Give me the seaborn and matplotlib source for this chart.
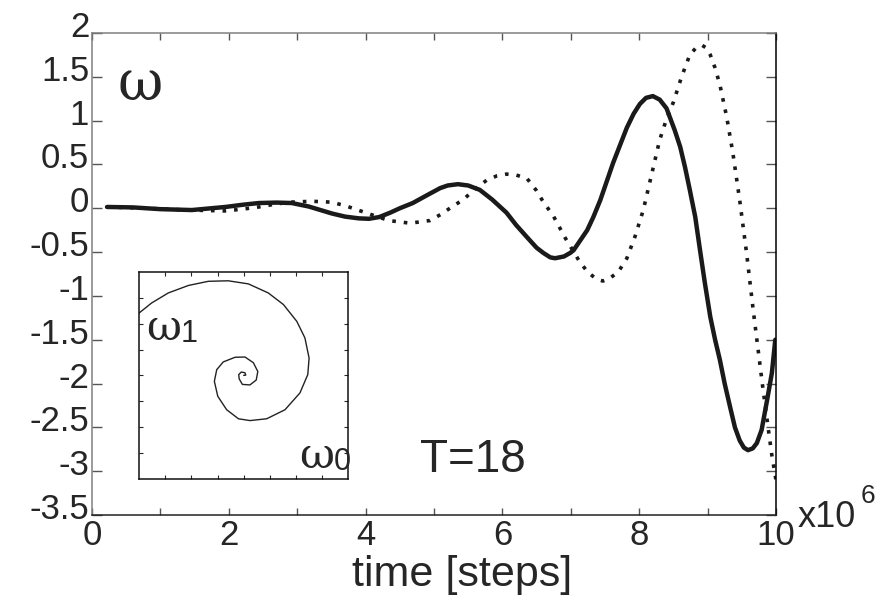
import matplotlib
matplotlib.use('Agg')
import matplotlib.pyplot as plt
import matplotlib.transforms as mtransforms
import seaborn as sns

sns.set_style("ticks")
plt.rcParams['font.family'] = ['Liberation Sans', 'DejaVu Sans']
plt.rcParams['axes.unicode_minus'] = False

# time in units of 1e6 steps
t_solid = [0.22, 0.6, 1.0, 1.46, 1.95, 2.2, 2.44, 2.7, 2.92, 3.17, 3.51, 3.7, 3.9, 4.05, 4.2, 4.36,
           4.5, 4.69, 4.9, 5.09, 5.2, 5.35, 5.5, 5.67, 5.85, 6.06, 6.2, 6.36, 6.5, 6.6, 6.7, 6.77,
           6.9, 6.99, 7.04, 7.24, 7.33, 7.43, 7.62, 7.82, 7.92, 8.01, 8.1, 8.2, 8.3, 8.4, 8.52, 8.6,
           8.67, 8.74, 8.82, 8.89, 8.96, 9.04, 9.11, 9.18, 9.25, 9.33, 9.4, 9.47, 9.53, 9.59, 9.66,
           9.72, 9.79, 9.87, 9.94, 9.99]
w_solid = [0.015, 0.01, -0.01, -0.02, 0.015, 0.04, 0.06, 0.065, 0.06, 0.02, -0.06, -0.095, -0.115, -0.12, -0.10, -0.05,
           0.0, 0.06, 0.15, 0.23, 0.26, 0.275, 0.26, 0.21, 0.10, -0.05, -0.19, -0.33, -0.45, -0.51, -0.56, -0.57,
           -0.55, -0.51, -0.48, -0.25, -0.10, 0.09, 0.52, 0.92, 1.08, 1.19, 1.26, 1.28, 1.24, 1.14, 0.89, 0.70,
           0.47, 0.21, -0.10, -0.48, -0.85, -1.24, -1.50, -1.73, -2.0, -2.27, -2.50, -2.65, -2.73, -2.76, -2.74,
           -2.68, -2.53, -2.19, -1.88, -1.50]

t_dot = [0.22, 0.8, 1.4, 1.94, 2.2, 2.44, 2.7, 2.9, 3.22, 3.5, 3.7, 4.0, 4.34, 4.65, 4.94, 5.1,
         5.26, 5.43, 5.6, 5.77, 5.92, 6.06, 6.2, 6.36, 6.5, 6.6, 6.74, 6.92, 7.13, 7.25, 7.38, 7.47,
         7.57, 7.7, 7.82, 7.94, 8.06, 8.18, 8.3, 8.4, 8.5, 8.62, 8.74, 8.83, 8.92, 8.98, 9.04, 9.11,
         9.18, 9.28, 9.37, 9.47, 9.57, 9.67, 9.74, 9.8, 9.89, 9.94, 10.0]
w_dot = [0.015, 0.0, -0.02, -0.03, -0.01, 0.015, 0.05, 0.07, 0.08, 0.07, 0.03, -0.05, -0.14, -0.17, -0.14, -0.07,
         0.015, 0.10, 0.22, 0.32, 0.37, 0.39, 0.38, 0.34, 0.20, 0.07, -0.08, -0.34, -0.61, -0.73, -0.81, -0.83,
         -0.80, -0.72, -0.57, -0.32, -0.02, 0.38, 0.78, 1.02, 1.21, 1.50, 1.75, 1.83, 1.86, 1.83, 1.75, 1.60,
         1.41, 1.04, 0.63, 0.09, -0.51, -1.18, -1.62, -2.0, -2.53, -2.82, -3.1]

# inset: phase portrait omega_0 vs omega_1
w0_spiral = [0.0, 0.08, 0.05, -0.09, -0.19, -0.17, -0.05, 0.24, 0.48, 0.54, 0.37, 0.05, -0.33, -0.78,
             -1.03, -1.12, -0.99, -0.65, -0.20, 0.24, 0.88, 1.58, 2.15, 2.45, 2.50, 2.34, 2.03, 1.52,
             0.94, 0.18, -0.59, -1.35, -2.11, -2.88, -3.52, -4.0]
w1_spiral = [0.0, 0.01, 0.10, 0.13, 0.03, -0.14, -0.35, -0.37, -0.18, 0.15, 0.49, 0.71, 0.70, 0.52,
             0.22, -0.23, -0.81, -1.33, -1.68, -1.75, -1.68, -1.33, -0.68, 0.03, 0.67, 1.45, 2.09, 2.74,
             3.19, 3.54, 3.66, 3.64, 3.48, 3.19, 2.80, 2.41]

x_ticks = [0, 2, 4, 6, 8, 10]
x_labels = ['0', '2', '4', '6', '8', '10']
y_ticks = [2, 1.5, 1, 0.5, 0, -0.5, -1, -1.5, -2, -2.5, -3, -3.5]
y_labels = ['2', '1.5', '1', '0.5', '0', '-0.5', '-1', '-1.5', '-2', '-2.5', '-3', '-3.5']

serif = ['DejaVu Serif', 'Liberation Serif']

fig = plt.figure(figsize=(8.77, 5.99), dpi=100)
ax = fig.add_axes([0.1049, 0.1402, 0.7799, 0.8047])

sns.lineplot(x=t_solid, y=w_solid, ax=ax, color='#1a1a1a', linewidth=3.2, sort=False, estimator=None)
sns.lineplot(x=t_dot, y=w_dot, ax=ax, color='#1a1a1a', linewidth=2.6, linestyle=(0, (1, 2.2)),
             sort=False, estimator=None)

ax.set_xlim(0, 10)
ax.set_ylim(-3.5, 2)
ax.set_xticks(x_ticks)
ax.set_xticklabels(x_labels)
ax.set_xticks([1, 3, 5, 7, 9], minor=True)
ax.set_yticks(y_ticks)
ax.set_yticklabels(y_labels)

ax.tick_params(axis='x', which='both', direction='in', top=True, length=5, width=1,
               color='#555555', labelsize=25, pad=3)
ax.tick_params(axis='y', direction='in', right=True, length=7, width=1,
               color='#555555', labelsize=25, pad=2)
shift = mtransforms.ScaledTranslation(0, 9 / 100, fig.dpi_scale_trans)
for lab in ax.get_yticklabels():
    lab.set_transform(lab.get_transform() + shift)

for side, col in [('left', '#808080'), ('top', '#808080'), ('bottom', '#222222'), ('right', '#000000')]:
    ax.spines[side].set_visible(True)
    ax.spines[side].set_color(col)
    ax.spines[side].set_linewidth(1.1)

ax.set_xlabel('time [steps]', fontsize=31)
ax.xaxis.set_label_coords(0.541, -0.082)
ax.set_ylabel('')

ax.text(0.037, 0.862, 'ω', transform=ax.transAxes, fontsize=40,
        family=serif, va='baseline', ha='left')
ax.text(0.48, 0.089, 'T=18', transform=ax.transAxes, fontsize=33, va='baseline', ha='left')

fig.text(798 / 877, 1 - 527 / 599, 'x10', fontsize=26, va='baseline', ha='left')
fig.text(861 / 877, 1 - 503 / 599, '6', fontsize=19, va='baseline', ha='left')

# inset
axins = fig.add_axes([0.1585, 0.2008, 0.2387, 0.3451])
sns.lineplot(x=w0_spiral, y=w1_spiral, ax=axins, color='#222222', linewidth=1.0,
             sort=False, estimator=None)
axins.set_xlim(-4, 4)
axins.set_ylim(-4, 4)
axins.set_xticks([-3, -2, -1, 0, 1, 2, 3])
axins.set_yticks([-3, -2, -1, 0, 1, 2, 3])
axins.tick_params(direction='in', top=True, right=True, length=3, width=0.8,
                  labelbottom=False, labelleft=False)
for side in ['left', 'top', 'bottom', 'right']:
    axins.spines[side].set_visible(True)
    axins.spines[side].set_color('#111111')
    axins.spines[side].set_linewidth(1.1)

axins.text(0.035, 0.671, 'ω', transform=axins.transAxes, fontsize=31,
           family=serif, va='baseline', ha='left')
axins.text(0.2, 0.66, '1', transform=axins.transAxes, fontsize=22, va='baseline', ha='left')
axins.text(0.765, 0.052, 'ω', transform=axins.transAxes, fontsize=31,
           family=serif, va='baseline', ha='left')
axins.text(0.93, 0.042, '0', transform=axins.transAxes, fontsize=22, va='baseline', ha='left')

fig.savefig('out.png', dpi=100)
